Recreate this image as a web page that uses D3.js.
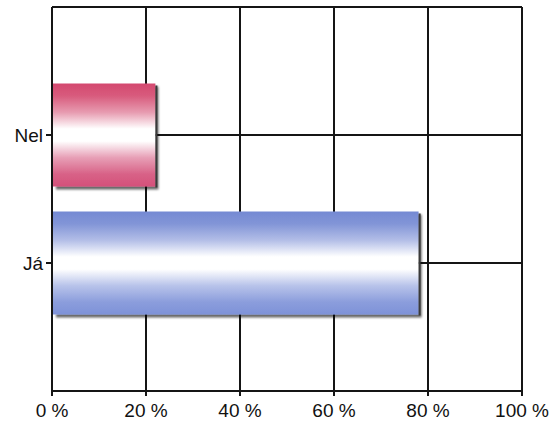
<!DOCTYPE html>
<html><head><meta charset="utf-8">
<script src="https://cdn.jsdelivr.net/npm/d3@7"></script>
<style>body{margin:0;background:#fff}svg{display:block}</style>
</head><body>
<script>
const categories = ["Já", "Nel"];
const values = [78, 22];
const xTicks = [0, 20, 40, 60, 80, 100];
const tickLabels = ["0 %", "20 %", "40 %", "60 %", "80 %", "100 %"];
const barColors = {"Já": ["#7489d3", "#7e92d8"], "Nel": ["#d4496f", "#d4507a"]};

const W = 552, H = 421;
const m = {left: 52, right: 30, top: 7, bottom: 30};
const svg = d3.select("body").append("svg").attr("width", W).attr("height", H);
const x = d3.scaleLinear().domain([0, 100]).range([m.left, W - m.right]);
const yPos = d3.scaleLinear().domain([0, categories.length + 1]).range([H - m.bottom, m.top]);
const barH = 103;

const defs = svg.append("defs");
categories.forEach((c, i) => {
  const col0 = d3.color(barColors[c][0]), col1 = d3.color(barColors[c][1]);
  const mix = (a, t) => d3.interpolateRgb(a, "#ffffff")(t);
  const g = defs.append("linearGradient").attr("id", "g" + i).attr("x1", 0).attr("x2", 0).attr("y1", 0).attr("y2", 1);
  g.append("stop").attr("offset", "0%").attr("stop-color", col0);
  g.append("stop").attr("offset", "12%").attr("stop-color", mix(col0, 0.1));
  g.append("stop").attr("offset", "28%").attr("stop-color", mix(col0, 0.45));
  g.append("stop").attr("offset", "44%").attr("stop-color", "#ffffff");
  g.append("stop").attr("offset", "56%").attr("stop-color", "#ffffff");
  g.append("stop").attr("offset", "72%").attr("stop-color", mix(col1, 0.45));
  g.append("stop").attr("offset", "88%").attr("stop-color", mix(col1, 0.1));
  g.append("stop").attr("offset", "100%").attr("stop-color", col1);
});
const f = defs.append("filter").attr("id", "sh").attr("x", "-5%").attr("y", "-5%").attr("width", "115%").attr("height", "120%");
f.append("feGaussianBlur").attr("in", "SourceAlpha").attr("stdDeviation", 1.2);
f.append("feOffset").attr("dx", 3).attr("dy", 3).attr("result", "ob");
f.append("feComponentTransfer").append("feFuncA").attr("type", "linear").attr("slope", 0.6);
const fm = f.append("feMerge");
fm.append("feMergeNode");
fm.append("feMergeNode").attr("in", "SourceGraphic");

const lineC = "#151515";
svg.append("line").attr("x1", x(0)).attr("x2", x(100)).attr("y1", m.top).attr("y2", m.top)
  .attr("stroke", lineC).attr("stroke-width", 2);
svg.append("g").selectAll("line").data(xTicks).join("line")
  .attr("x1", d => x(d)).attr("x2", d => x(d))
  .attr("y1", m.top).attr("y2", H - m.bottom + 5)
  .attr("stroke", lineC).attr("stroke-width", 2);
svg.append("g").selectAll("line").data(categories).join("line")
  .attr("x1", x(0) - 6).attr("x2", x(100))
  .attr("y1", (d, i) => yPos(i + 1)).attr("y2", (d, i) => yPos(i + 1))
  .attr("stroke", lineC).attr("stroke-width", 2);
svg.append("line").attr("x1", x(0)).attr("x2", x(100)).attr("y1", H - m.bottom).attr("y2", H - m.bottom)
  .attr("stroke", lineC).attr("stroke-width", 2);

svg.append("g").selectAll("rect").data(categories).join("rect")
  .attr("x", x(0) + 1)
  .attr("y", (d, i) => yPos(i + 1) - barH / 2)
  .attr("width", (d, i) => x(values[i]) - x(0) - 1)
  .attr("height", barH)
  .attr("fill", (d, i) => `url(#g${i})`)
  .attr("filter", "url(#sh)");
svg.append("g").selectAll("line").data(categories).join("line")
  .attr("x1", (d, i) => x(values[i]) + 1).attr("x2", (d, i) => x(values[i]) + 1)
  .attr("y1", (d, i) => yPos(i + 1) - barH / 2 + 2).attr("y2", (d, i) => yPos(i + 1) + barH / 2 + 1)
  .attr("stroke", "#3a3a3a").attr("stroke-width", 2);

svg.append("g").selectAll("text").data(xTicks).join("text")
  .attr("x", d => x(d)).attr("y", H - 4)
  .attr("text-anchor", "middle")
  .attr("font-family", "Liberation Sans, Arial, sans-serif").attr("font-size", 19)
  .attr("fill", "#111")
  .text((d, i) => tickLabels[i]);
svg.append("g").selectAll("text").data(categories).join("text")
  .attr("x", x(0) - 9).attr("y", (d, i) => yPos(i + 1)).attr("dy", "0.35em")
  .attr("text-anchor", "end")
  .attr("font-family", "Liberation Sans, Arial, sans-serif").attr("font-size", 19)
  .attr("fill", "#111")
  .text(d => d);
</script>
</body></html>
